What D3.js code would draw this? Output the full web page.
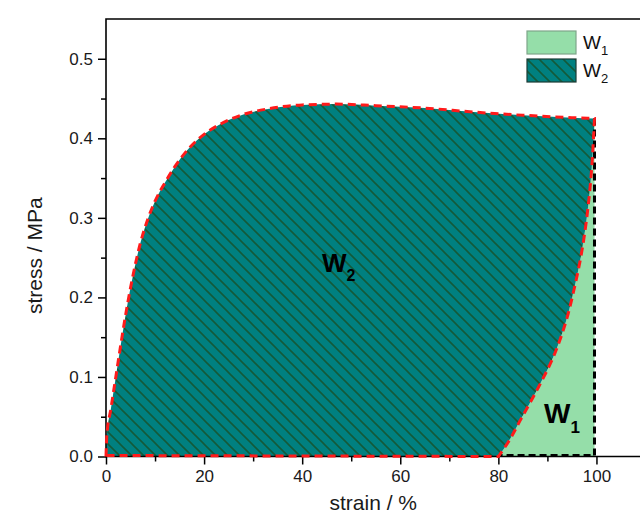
<!DOCTYPE html>
<html>
<head>
<meta charset="utf-8">
<script src="https://cdn.jsdelivr.net/npm/d3@7/dist/d3.min.js"></script>
<style>
  html, body { margin: 0; padding: 0; background: #ffffff; }
  svg { display: block; font-family: Arial, "Liberation Sans", sans-serif; }
</style>
</head>
<body>
<svg id="chart" width="640" height="517"></svg>
<script>
// ---- data ----
const loadStrain = [0, 0.15, 1.0, 2.0, 3.0, 4.0, 5.0, 6.0, 7.0, 8.5, 10, 12, 14, 17, 20, 24, 28, 33, 40, 47, 55, 65, 75, 85, 95, 99.6];
const loadStress = [0, 0.025, 0.060, 0.100, 0.140, 0.178, 0.212, 0.242, 0.268, 0.298, 0.321, 0.344, 0.364, 0.388, 0.405, 0.420, 0.430, 0.437, 0.442, 0.443, 0.441, 0.438, 0.433, 0.429, 0.426, 0.425];
const unloadStrain = [99.6, 99.4, 99.0, 98.4, 97.7, 96.7, 95.5, 93.7, 91.2, 88.0, 84.6, 82.0, 80.0];
const unloadStress = [0.425, 0.400, 0.360, 0.320, 0.285, 0.247, 0.212, 0.168, 0.125, 0.085, 0.047, 0.018, 0.0];
const xTicks = [0, 20, 40, 60, 80, 100];
const xMinorTicks = [10, 30, 50, 70, 90];
const yTicks = [0.0, 0.1, 0.2, 0.3, 0.4, 0.5];
const yMinorTicks = [0.05, 0.15, 0.25, 0.35, 0.45];
const legendLabels = ["1", "2"];

// ---- layout ----
const svg = d3.select("#chart");
const pL = 106, pR = 645.5, pT = 19, pB = 456.5;
const x = d3.scaleLinear().domain([0, 110]).range([pL, pR]);
const y = d3.scaleLinear().domain([0, 0.55]).range([pB, pT]);

const teal = "#008080", hatch = "#135a3a", light = "#95dea9";

const defs = svg.append("defs");
const P = 12;
const pat = defs.append("pattern").attr("id", "hatch")
  .attr("patternUnits", "userSpaceOnUse").attr("width", P).attr("height", P);
pat.append("rect").attr("width", P).attr("height", P).attr("fill", teal);
pat.append("path").attr("d", `M-2,-2 L${P + 2},${P + 2} M-2,${P - 2} L2,${P + 2} M${P - 2},-2 L${P + 2},2`)
  .attr("stroke", hatch).attr("stroke-width", 1.6);

const loadPts = loadStrain.map((d, i) => [x(d), y(loadStress[i])]);
const unloadPts = unloadStrain.map((d, i) => [x(d), y(unloadStress[i])]);
const loadLine = d3.line().curve(d3.curveMonotoneX);
const unloadLine = d3.line().curve(d3.curveMonotoneY);
const loadD = loadLine(loadPts);
const unloadD = unloadLine(unloadPts).replace(/^M/, "L");

// W1 area
svg.append("path")
  .attr("d", unloadLine(unloadPts) + "L" + x(99.6) + "," + y(0) + "Z")
  .attr("fill", light);
// W2 area
svg.append("path")
  .attr("d", loadD + unloadD + "Z")
  .attr("fill", "url(#hatch)");

// ---- axes ----
const xAxis = svg.append("g").attr("transform", `translate(0,${pB})`)
  .call(d3.axisBottom(x).tickValues(xTicks).tickSize(8).tickPadding(5).tickFormat(d3.format("d")));
const xMinor = svg.append("g").attr("transform", `translate(0,${pB})`)
  .call(d3.axisBottom(x).tickValues(xMinorTicks).tickSize(5).tickFormat(""));
const yAxis = svg.append("g").attr("transform", `translate(${pL},0)`)
  .call(d3.axisLeft(y).tickValues(yTicks).tickSize(8).tickPadding(5).tickFormat(d3.format(".1f")));
const yMinor = svg.append("g").attr("transform", `translate(${pL},0)`)
  .call(d3.axisLeft(y).tickValues(yMinorTicks).tickSize(5).tickFormat(""));
[xAxis, xMinor, yAxis, yMinor].forEach(g => {
  g.select(".domain").remove();
  g.selectAll("line").attr("stroke", "#000").attr("stroke-width", 1.5);
  g.selectAll("text").attr("fill", "#1a1a1a").style("font-size", "17px").style("font-family", "Arial, 'Liberation Sans', sans-serif");
});
// frame
svg.append("path")
  .attr("d", `M${pL},${pB} L${pL},${pT} L${pR},${pT} L${pR},${pB} Z`)
  .attr("fill", "none").attr("stroke", "#000").attr("stroke-width", 1.6);

// ---- dashed outlines ----
svg.append("path")
  .attr("d", `M${x(99.6)},${y(0.425)} L${x(99.6)},${y(0) - 1} L${x(80)},${y(0) - 1}`)
  .attr("fill", "none").attr("stroke", "#000").attr("stroke-width", 3)
  .attr("stroke-dasharray", "7,4");
svg.append("path")
  .attr("d", loadD + unloadD + "L" + x(0) + "," + (y(0) - 1))
  .attr("fill", "none").attr("stroke", "#ff1a1a").attr("stroke-width", 3)
  .attr("stroke-dasharray", "8,5");

// ---- axis titles ----
svg.append("text").attr("x", (x(0) + x(100)) / 2 + 22).attr("y", 510)
  .attr("text-anchor", "middle").style("font-size", "21px").attr("fill", "#1a1a1a")
  .text("strain / %");
svg.append("text").attr("transform", `translate(42,${(pT + pB) / 2 + 18}) rotate(-90)`)
  .attr("text-anchor", "middle").style("font-size", "21px").attr("fill", "#1a1a1a")
  .text("stress / MPa");

// ---- area labels ----
const w2 = svg.append("text").attr("x", 322).attr("y", 272).style("font-weight", "bold").style("font-size", "26px");
w2.append("tspan").text("W");
w2.append("tspan").attr("dy", 9).style("font-size", "16px").text("2");
const w1 = svg.append("text").attr("x", 544).attr("y", 423).style("font-weight", "bold").style("font-size", "28px");
w1.append("tspan").text("W");
w1.append("tspan").attr("dy", 10).style("font-size", "17px").text("1");

// ---- legend ----
const leg = svg.append("g");
const fills = [light, "url(#hatch)"];
const strokes = ["#7fa68a", "#1c3b34"];
legendLabels.forEach((lab, i) => {
  const yy = 31 + i * 28;
  leg.append("rect").attr("x", 527).attr("y", yy).attr("width", 49).attr("height", 23)
    .attr("fill", fills[i]).attr("stroke", strokes[i]).attr("stroke-width", 1.2);
  const t = leg.append("text").attr("x", 583).attr("y", yy + 18).style("font-size", "19px").attr("fill", "#111");
  t.append("tspan").text("W");
  t.append("tspan").attr("dy", 6).style("font-size", "13px").text(lab);
});
</script>
</body>
</html>
